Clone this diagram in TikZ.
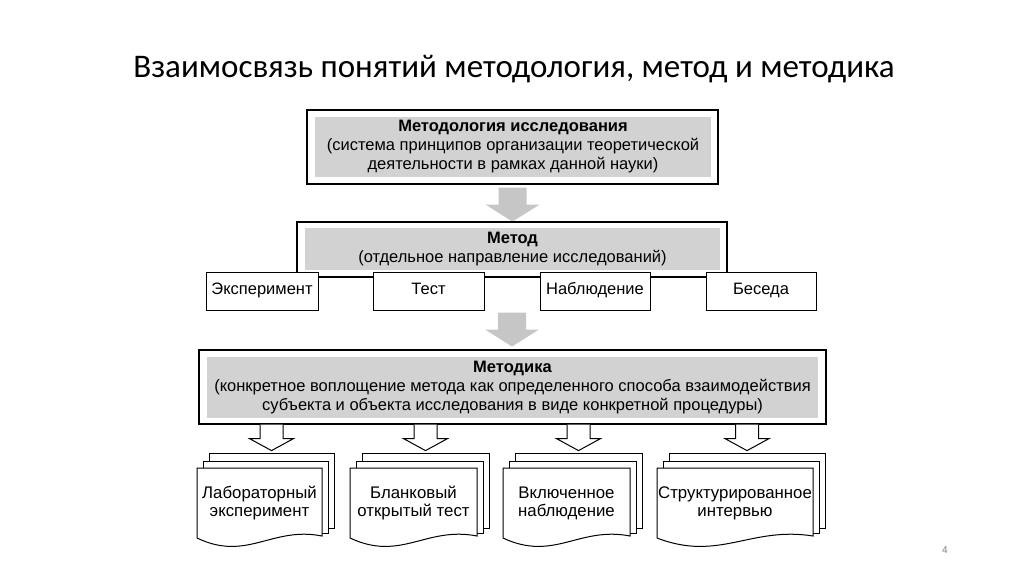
\documentclass[tikz,border=0pt]{standalone}
\usepackage{fontspec}
\setmainfont{Liberation Sans}
\newfontfamily\titlefont{Carlito}
\usetikzlibrary{positioning}

\tikzset{
  outerbox/.style={draw=black, line width=1.2pt, fill=white, inner sep=0pt},
  greybox/.style={fill=gray!35, inner sep=0pt, align=center, font=\fontsize{16.5}{19}\selectfont},
  methodbox/.style={draw=black, line width=1pt, fill=white, inner sep=0pt, minimum height=38pt, text height=1.5ex, text depth=0.3ex, font=\fontsize{16.5}{19}\selectfont},
  sheet/.style={draw=black, line width=1pt, fill=white, inner sep=0pt},
  sheettext/.style={inner sep=0pt, align=center, font=\fontsize{16.8}{18}\selectfont},
  greyarrow/.pic={\fill[gray!45] (-14,0) -- (-14,17) -- (-27,17) -- (0,34) -- (27,17) -- (14,17) -- (14,0) -- cycle;},
  hollowarrow/.pic={\draw[line width=1pt, fill=white] (-11.5,0) -- (-11.5,14) -- (-22,14) -- (0,26) -- (22,14) -- (11.5,14) -- (11.5,0);}
}

\begin{document}
\begin{tikzpicture}[x=1pt, y=-1pt]
\useasboundingbox (0,0) rectangle (1024,574);
\node[font=\titlefont\fontsize{33}{40}\selectfont] (title) at (514,69) {Взаимосвязь понятий методология, метод и методика};

% methodology
\node[outerbox, minimum width=411pt, minimum height=74pt] (methodologybox) at (512.5,147) {};
\node[greybox, minimum width=396pt, minimum height=60pt] (methodology) at (513,147) {\textbf{Методология исследования}\\(система принципов организации теоретической\\деятельности в рамках данной науки)};
\path (methodologybox.south) ++(0,3) pic {greyarrow};

% method
\node[outerbox, minimum width=430pt, minimum height=55pt] (methodbox) at (512,249.5) {};
\node[greybox, minimum width=415pt, minimum height=42pt] (method) at (512.5,249) {\textbf{Метод}\\(отдельное направление исследований)};
\node[methodbox, minimum width=112pt] (experiment) at (262,291) {Эксперимент};
\node[methodbox, minimum width=111pt] (test) at (428.5,291) {Тест};
\node[methodbox, minimum width=110pt] (observation) at (595,291) {Наблюдение};
\node[methodbox, minimum width=110pt] (talk) at (761,291) {Беседа};
\path (methodbox.south |- test.south) ++(0,2) pic {greyarrow};

% technique
\node[outerbox, minimum width=627pt, minimum height=74pt] (techniquebox) at (512.5,387) {};
\node[greybox, minimum width=611pt, minimum height=61pt] (technique) at (512.5,387.5) {\textbf{Методика}\\(конкретное воплощение метода как определенного способа взаимодействия\\субъекта и объекта исследования в виде конкретной процедуры)};

% stacks
\node[sheet, minimum width=125pt, minimum height=75pt] (labback) at (271.5,490.5) {};
\node[sheet, minimum width=125pt, minimum height=72pt] (labmid) at (265.5,497) {};
\draw[sheet] (322,468) -- (322,536) .. controls (272,526) and (247,562) .. (197,538) -- (197,468) -- cycle;
\node[sheettext] (lab) at (259.5,503) {Лабораторный\\эксперимент};
\path (techniquebox.south -| labback.north) pic {hollowarrow};

\node[sheet, minimum width=127pt, minimum height=75pt] (blankback) at (425.5,490.5) {};
\node[sheet, minimum width=127pt, minimum height=72pt] (blankmid) at (419.5,497) {};
\draw[sheet] (477,468) -- (477,536) .. controls (426,526) and (401,562) .. (350,538) -- (350,468) -- cycle;
\node[sheettext] (blank) at (413.5,503) {Бланковый\\открытый тест};
\path (techniquebox.south -| blankback.north) pic {hollowarrow};

\node[sheet, minimum width=127pt, minimum height=75pt] (includedback) at (578.5,490.5) {};
\node[sheet, minimum width=127pt, minimum height=72pt] (includedmid) at (572.5,497) {};
\draw[sheet] (630,468) -- (630,536) .. controls (579,526) and (554,562) .. (503,538) -- (503,468) -- cycle;
\node[sheettext] (included) at (566.5,503) {Включенное\\наблюдение};
\path (techniquebox.south -| includedback.north) pic {hollowarrow};

\node[sheet, minimum width=156pt, minimum height=75pt] (interviewback) at (747,490.5) {};
\node[sheet, minimum width=156pt, minimum height=72pt] (interviewmid) at (741,497) {};
\draw[sheet] (813,468) -- (813,536) .. controls (751,526) and (719,562) .. (657,538) -- (657,468) -- cycle;
\node[sheettext] (interview) at (735,503) {Структурированное\\интервью};
\path (techniquebox.south -| interviewback.north) pic {hollowarrow};

\node[text=gray, font=\fontsize{10}{12}\selectfont] (pagenum) at (945,550) {4};
\end{tikzpicture}
\end{document}
